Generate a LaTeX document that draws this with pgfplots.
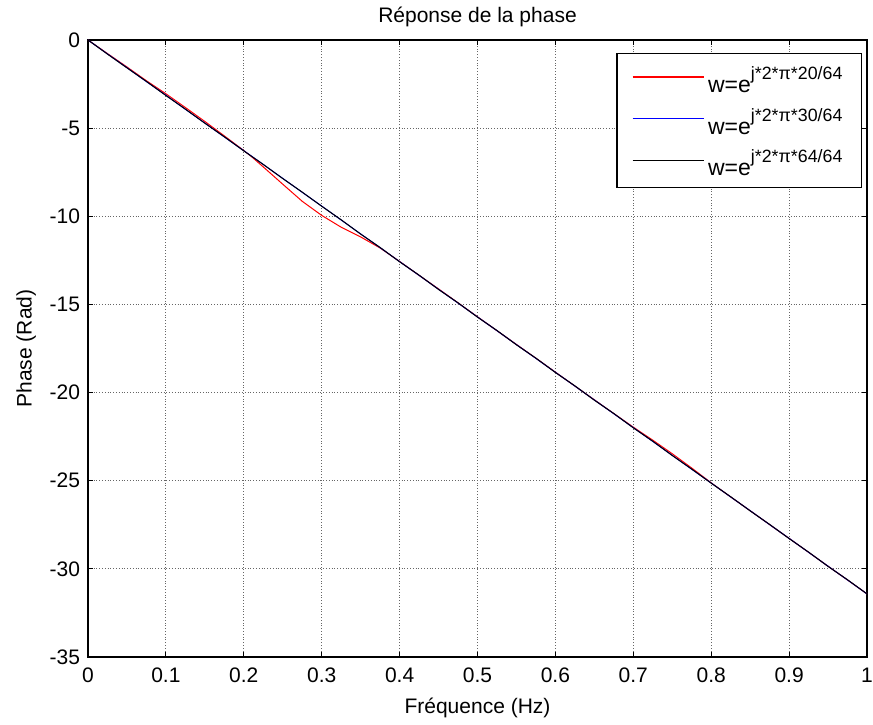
\documentclass[border=0pt]{standalone}
\usepackage{pgfplots}
\pgfplotsset{compat=1.18}
\usepackage{fontspec}
\setmainfont{Liberation Sans}
\definecolor{mred}{RGB}{255,0,0}
\definecolor{mblue}{RGB}{0,0,255}
\newcommand{\leg}[1]{w=e\raisebox{1.05ex}{\fontsize{8.9}{9}\selectfont j*2*π*#1/64}}
\begin{document}
\begin{tikzpicture}[x=1pt,y=1pt]
\useasboundingbox (-44,-33.5) rectangle (392.5,328.5);
\begin{axis}[
  at={(0,0)}, anchor=south west,
  scale only axis, width=389.5pt, height=308.5pt,
  xmin=0, xmax=1, ymin=-35, ymax=0,
  xtick={0,0.1,0.2,0.3,0.4,0.5,0.6,0.7,0.8,0.9,1},
  ytick={-35,-30,-25,-20,-15,-10,-5,0},
  grid=major,
  major grid style={densely dotted, black!60, line width=0.4pt},
  tick align=inside, major tick length=2.5pt,
  tick style={black, line width=0.5pt},
  axis line style={black, line width=0.6pt},
  /pgf/number format/assume math mode=true,
  /pgf/number format/fixed,
  tick label style={font=\fontsize{10.5}{12}\selectfont},
  xticklabel style={yshift=-2pt},
  yticklabel style={xshift=-0.5pt},
  title={Réponse de la phase},
  title style={font=\fontsize{10.5}{12}\selectfont, yshift=-3pt},
  xlabel={Fréquence (Hz)},
  ylabel={Phase (Rad)},
  label style={font=\fontsize{10.5}{12}\selectfont},
  xlabel style={yshift=-0.5pt},
  ylabel style={yshift=0pt},
  legend style={at={(0.9936,0.979)}, anchor=north east, draw=black, line width=0.6pt,
    font=\fontsize{11.5}{13}\selectfont, row sep=3.25pt, inner xsep=7.5pt, inner ysep=4pt,
    nodes={inner sep=2pt, text height=13.5pt, text depth=0pt}},
  legend cell align=left,
]
\addplot[mred, line width=0.5pt,
  legend image code/.code={\draw[draw=mred, line width=0.6pt] (0pt,1pt) -- (35.5pt,1pt);}] coordinates {
(0,0) (0.025,-0.77) (0.05,-1.53) (0.075,-2.31) (0.1,-3.05) (0.125,-3.83) (0.15,-4.62)
(0.175,-5.44) (0.2,-6.27) (0.21,-6.62) (0.225,-7.2) (0.25,-8.18) (0.275,-9.15) (0.3,-9.95)
(0.325,-10.62) (0.35,-11.17) (0.375,-11.8) (0.4,-12.56) (0.425,-13.35) (0.45,-14.12)
(0.475,-14.91) (0.5,-15.7) (0.525,-16.49) (0.55,-17.27) (0.575,-18.05) (0.6,-18.84)
(0.625,-19.63) (0.65,-20.41) (0.675,-21.19) (0.7,-21.96) (0.725,-22.7) (0.75,-23.47)
(0.775,-24.28) (0.8,-25.12) (0.825,-25.92) (0.85,-26.7) (0.875,-27.49) (0.9,-28.27)
(0.925,-29.06) (0.95,-29.85) (0.975,-30.63) (1,-31.42)};
\addlegendentry{\leg{20}}
\addplot[mblue, line width=0.5pt,
  legend image code/.code={\draw[draw=mblue, line width=0.6pt] (0pt,1pt) -- (35.5pt,1pt);}] coordinates {
(0,0) (0.025,-0.79) (0.05,-1.57) (0.075,-2.36) (0.1,-3.13) (0.125,-3.93) (0.15,-4.71)
(0.175,-5.5) (0.2,-6.28) (0.225,-7.06) (0.25,-7.85) (0.275,-8.64) (0.3,-9.42)
(0.325,-10.21) (0.35,-11.0) (0.375,-11.78) (0.4,-12.57) (0.425,-13.35) (0.45,-14.14)
(0.475,-14.92) (0.5,-15.71) (0.525,-16.49) (0.55,-17.28) (0.575,-18.06) (0.6,-18.85)
(0.625,-19.63) (0.65,-20.42) (0.675,-21.2) (0.7,-21.99) (0.725,-22.77) (0.75,-23.56)
(0.775,-24.35) (0.8,-25.13) (0.825,-25.92) (0.85,-26.7) (0.875,-27.49) (0.9,-28.27)
(0.925,-29.06) (0.95,-29.85) (0.975,-30.63) (1,-31.42)};
\addlegendentry{\leg{30}}
\addplot[black, line width=0.5pt,
  legend image code/.code={\draw[draw=black, line width=0.5pt] (0pt,1pt) -- (35.5pt,1pt);}] coordinates {
(0,0) (0.025,-0.8) (0.05,-1.58) (0.075,-2.35) (0.1,-3.15) (0.125,-3.92) (0.15,-4.72)
(0.175,-5.49) (0.2,-6.29) (0.225,-7.06) (0.25,-7.86) (0.275,-8.63) (0.3,-9.43)
(0.325,-10.2) (0.35,-11.01) (0.375,-11.77) (0.4,-12.58) (0.425,-13.34) (0.45,-14.15)
(0.475,-14.91) (0.5,-15.72) (0.525,-16.48) (0.55,-17.29) (0.575,-18.05) (0.6,-18.86)
(0.625,-19.62) (0.65,-20.43) (0.675,-21.19) (0.7,-22.0) (0.725,-22.76) (0.75,-23.57)
(0.775,-24.34) (0.8,-25.14) (0.825,-25.91) (0.85,-26.71) (0.875,-27.48) (0.9,-28.28)
(0.925,-29.05) (0.95,-29.86) (0.975,-30.62) (1,-31.42)};
\addlegendentry{\leg{64}}
\end{axis}
\end{tikzpicture}
\end{document}
